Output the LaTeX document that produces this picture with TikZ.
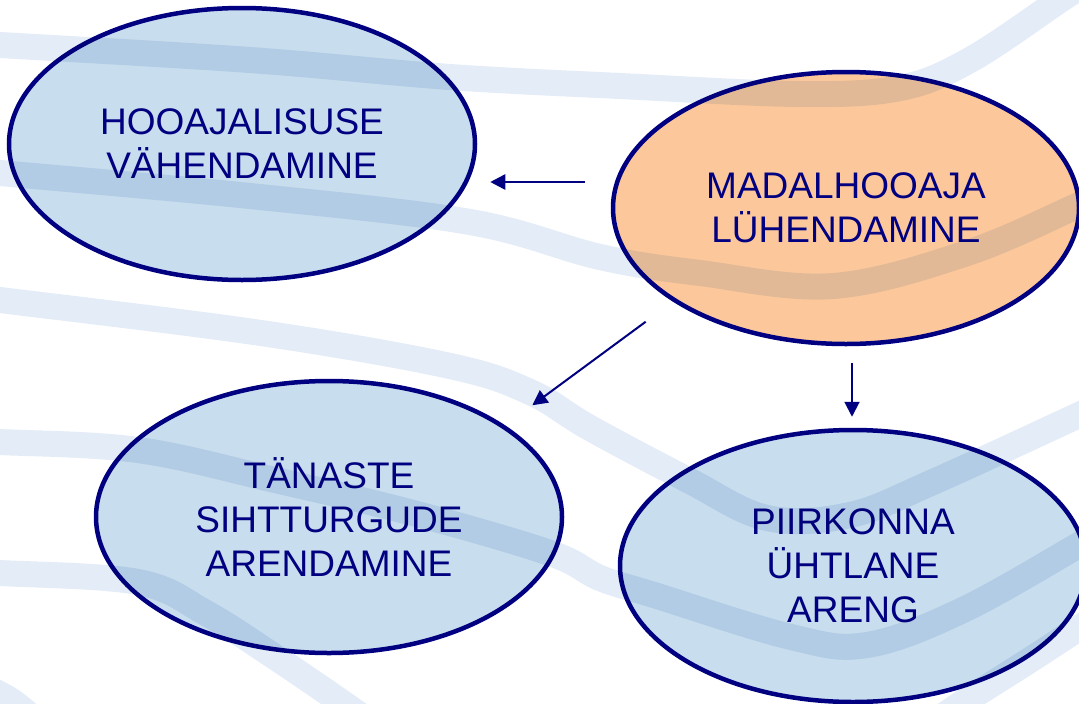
\documentclass[tikz,border=0pt]{standalone}
\usepackage{fontspec}
\setmainfont{Liberation Sans}
\usetikzlibrary{shapes.geometric,arrows.meta,calc}
\definecolor{navy}{RGB}{0,0,128}
\definecolor{paleblue}{RGB}{200,221,237}
\definecolor{peach}{RGB}{252,200,155}
\definecolor{wavecol}{RGB}{228,236,247}
\def\firstwave{plot[smooth,tension=.6] coordinates {(-20,44) (0,45) (250,60) (450,77) (620,86) (800,94) (900,88) (970,60) (1060,0) (1090,-20)}}
\def\secondwave{plot[smooth,tension=.6] coordinates {(-20,171) (0,173) (250,196) (470,222) (600,257) (700,273) (833,286) (967,253) (1079,205) (1100,195)}}
\def\thirdwave{plot[smooth,tension=.6] coordinates {(-20,298) (0,300) (261,333) (450,366) (530,392) (590,428) (688,480) (767,518) (850,515) (933,482) (1079,415) (1100,405)}}
\def\fourthwave{plot[smooth,tension=.6] coordinates {(-20,441) (0,442) (138,450) (275,480) (413,513) (550,553) (600,578) (654,595) (791,637) (867,645) (963,610) (1079,545) (1100,533)}}
\def\fifthwave{plot[smooth,tension=.6] coordinates {(-20,572) (0,573) (138,582) (206,613) (275,657) (344,704) (380,730)}}
\def\sixthwave{plot[smooth,tension=.6] coordinates {(-30,680) (10,700) (40,725)}}
\def\seventhwave{plot[smooth,tension=.6] coordinates {(930,725) (967,700) (1030,660) (1079,628) (1100,615)}}

\begin{document}
\begin{tikzpicture}[x=1pt,y=-1pt,
    bubble/.style={ellipse,draw=navy,line width=4.5pt,fill=paleblue,text=navy,
      minimum width=466pt,minimum height=272pt,inner sep=0pt,align=center,
      font=\fontsize{37}{44}\selectfont},
    wave/.style={wavecol,line width=26pt},
    link/.style={navy,line width=2pt,-{Triangle[length=15pt,width=15pt]}}]
  \useasboundingbox (0,0) rectangle (1079,704);
  \clip (0,0) rectangle (1079,704);
  \fill[white] (0,0) rectangle (1079,704);
  % the four goals
  \node[bubble] (hooaj) at (242,144) {HOOAJALISUSE\\VÄHENDAMINE};
  \node[bubble,fill=peach] (madal) at (846,208) {MADALHOOAJA\\LÜHENDAMINE};
  \node[bubble] (tanaste) at (329,517) {TÄNASTE\\SIHTTURGUDE\\ARENDAMINE};
  \node[bubble] (piirk) at (853,566) {PIIRKONNA\\ÜHTLANE\\ARENG};
  % background waves
  \begin{scope}[blend mode=multiply]
    \draw[wave] \firstwave;
    \draw[wave] \secondwave;
    \draw[wave] \thirdwave;
    \draw[wave] \fourthwave;
    \draw[wave] \fifthwave;
    \draw[wave] \sixthwave;
    \draw[wave] \seventhwave;
  \end{scope}
  % arrows
  \coordinate (m1) at ($(madal.west)+(-26,-26)$);
  \coordinate (h1) at ($(hooaj.east)+(13,38)$);
  \coordinate (m2) at ($(madal.south west)+(-34,16)$);
  \coordinate (t2) at ($(tanaste.north east)+(37,-14)$);
  \coordinate (m3) at ($(madal.south)+(6,17)$);
  \coordinate (p3) at ($(piirk.north)+(-1,-11)$);
  \draw[link,line width=2.6pt] (m1) -- (m1 -| h1);
  \draw[link] (m2) -- (t2);
  \draw[link] (m3) -- (m3 |- p3);
\end{tikzpicture}
\end{document}
